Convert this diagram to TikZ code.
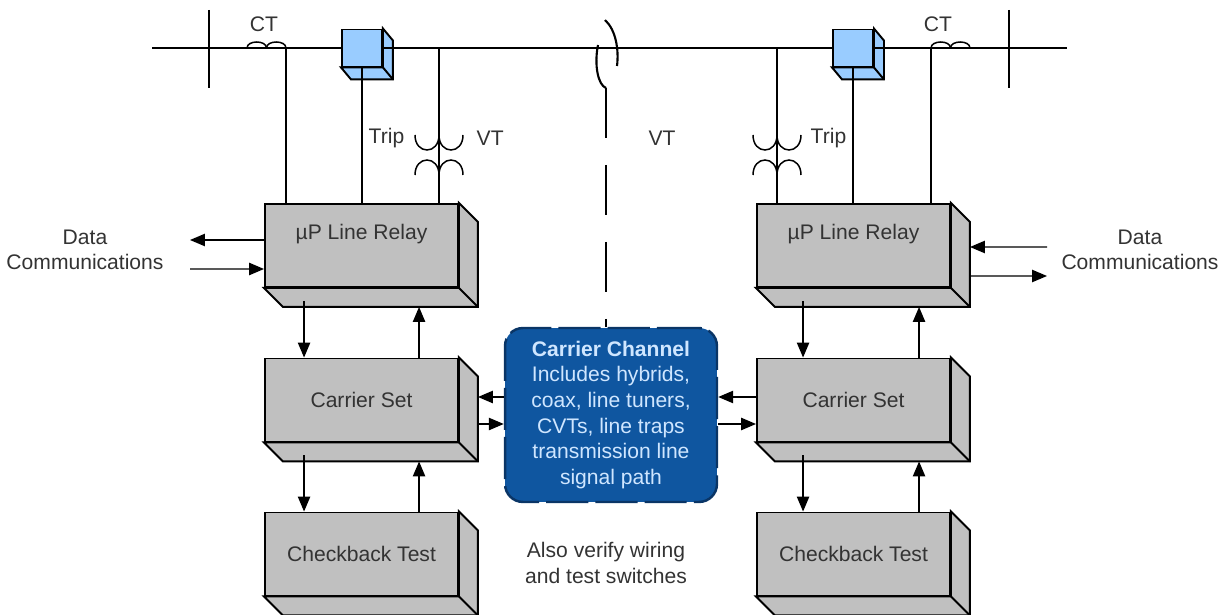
\documentclass[tikz,border=0pt]{standalone}
\usepackage{fontspec}
\setmainfont{Liberation Sans}
\usetikzlibrary{arrows.meta}

\definecolor{boxgray}{HTML}{C0C0C0}
\definecolor{cubeblue}{HTML}{99CCFF}
\definecolor{chanblue}{HTML}{0F56A0}
\definecolor{chanedge}{HTML}{0A3566}
\definecolor{chantext}{HTML}{CFE6FF}
\definecolor{inkgray}{HTML}{333333}

\tikzset{
  unit/.style={draw, fill=boxgray, line width=1.1pt, minimum width=3.86cm, minimum height=1.66cm,
    inner sep=0pt, text=inkgray, font=\fontsize{12}{14.6}\selectfont},
  relayunit/.style={unit, text height=0.3cm, text depth=0.56cm},
  breaker/.style={draw, fill=cubeblue, line width=1.1pt, minimum width=0.8cm, minimum height=0.74cm, inner sep=0pt},
  chan/.style={fill=chanblue, draw=chanedge, line width=1.4pt, dash pattern=on 24pt off 4pt,
    rounded corners=0.36cm, minimum width=4.24cm, minimum height=3.48cm, align=center,
    text=chantext, font=\fontsize{12}{14.6}\selectfont},
  wire/.style={line width=0.85pt},
  lbl/.style={text=inkgray, font=\fontsize{12}{14.6}\selectfont, inner sep=0pt},
}

% faces on the right and below a box (node, depth x, depth y, fill)
\newcommand\boxsides[4]{%
  \filldraw[fill=#4, line width=1.1pt]
    (#1.north east) -- ++(#2,#3) -- ([shift={(#2,#3)}]#1.south east)
    -- ([shift={(#2,#3)}]#1.south west) -- (#1.south west) -- (#1.south east) -- cycle;
  \draw[line width=1.1pt] (#1.south east) -- ++(#2,#3);
}

\begin{document}
\begin{tikzpicture}[x=0.02cm, y=-0.02cm, thick, >={Triangle[length=8.5pt,width=7pt]}]
\useasboundingbox (0,0) rectangle (1225,615);

% line, breakers, bus bars
\coordinate (busL) at (152,48);
\coordinate (busR) at (1067,48);
\node[breaker] (bkL) at (362,48) {};
\boxsides{bkL}{10}{12}{cubeblue}
\node[breaker] (bkR) at (853,48) {};
\boxsides{bkR}{10}{12}{cubeblue}
\draw[wire] (busL) -- (bkL.west) (bkL.east) -- (bkR.west) (bkR.east) -- (busR);
\draw[line width=1.6pt] (209,10) -- (209,88);
\draw[line width=1.6pt] (1009,10) -- (1009,88);

% CT coils
\foreach \x in {247,266.5,931,950.5}
  \draw[wire] (\x,48) .. controls (\x,40) and (\x+19.5,40) .. (\x+19.5,48);
\node[lbl] (ctL) at (264,24) {CT};
\node[lbl] (ctR) at (938,24) {CT};

% VT coils
\foreach \x in {415,439,753,777} {
  \draw[wire] (\x,135) .. controls (\x,155) and (\x+24,155) .. (\x+24,135);
  \draw[wire] (\x,175) .. controls (\x,155) and (\x+24,155) .. (\x+24,175);
}
\node[lbl, anchor=west] (tripL) at (368,138) {Trip};
\node[lbl, anchor=west] (vtL) at (476,138) {VT};
\node[lbl] (vtM) at (662,138) {VT};
\node[lbl, anchor=west] (tripR) at (810,138) {Trip};

% line break
\draw[line width=1.2pt] (605,20) .. controls (616,30) and (619,50) .. (617,66);
\draw[line width=1.2pt] (598,45) .. controls (594,65) and (598,85) .. (606,88);
\coordinate (brk) at (606,88);

% units
\foreach \s/\x in {L/361.5,R/853.5} {
  \node[relayunit] (r\s) at (\x,245.5) {µP Line Relay};
  \node[unit] (c\s) at (\x,400) {Carrier Set};
  \node[unit] (k\s) at (\x,554) {Checkback Test};
}
\foreach \n in {rL,cL,kL,rR,cR,kR} {
  \boxsides{\n}{19}{19}{boxgray}
}

% CT, trip and VT wires
\coordinate (ctLtap) at (286,48);
\coordinate (vtLtap) at (439,48);
\coordinate (vtRtap) at (777,48);
\coordinate (ctRtap) at (931,48);
\draw[wire] (ctLtap) -- (ctLtap |- rL.north);
\draw[wire] (bkL.south) -- (bkL.south |- rL.north);
\draw[wire] (vtLtap) -- (vtLtap |- rL.north);
\draw[wire] (vtRtap) -- (vtRtap |- rR.north);
\draw[wire] (bkR.south) -- (bkR.south |- rR.north);
\draw[wire] (ctRtap) -- (ctRtap |- rR.north);

% carrier channel
\node[chan] (chan) at (611,415) {\textbf{Carrier Channel}\\Includes hybrids,\\coax, line tuners,\\CVTs, line traps\\transmission line\\signal path};
\draw[line width=1.2pt, dash pattern=on 1cm off 0.54cm] (brk) -- (brk |- chan.north);

% signal arrows
\foreach \s/\a/\b in {L/40/155,R/47/163} {
  \draw[->] ([shift={(\a,13)}]r\s.south west) -- ([shift={(\a,0)}]c\s.north west);
  \draw[->] ([shift={(\b,0)}]c\s.north west) -- ([shift={(\b,19)}]r\s.south west);
  \draw[->] ([shift={(\a,13)}]c\s.south west) -- ([shift={(\a,0)}]k\s.north west);
  \draw[->] ([shift={(\b,0)}]k\s.north west) -- ([shift={(\b,19)}]c\s.south west);
}
\draw[->] ([shift={(0,-18)}]chan.west) -- ([shift={(19,-3)}]cL.east);
\draw[->] ([shift={(19,24)}]cL.east) -- ([shift={(0,9)}]chan.west);
\draw[->] ([shift={(0,-3)}]cR.west) -- ([shift={(0,-18)}]chan.east);
\draw[->] ([shift={(0,9)}]chan.east) -- ([shift={(0,24)}]cR.west);

% data communications
\coordinate (dLout) at (190,240);
\coordinate (dLin) at (190,269);
\coordinate (dRin) at (1047,247);
\coordinate (dRout) at (1047,276);
\draw[->] ([shift={(0,-5.5)}]rL.west) -- (dLout);
\draw[->] (dLin) -- ([shift={(0,23.5)}]rL.west);
\draw[->] (dRin) -- ([shift={(19,1.5)}]rR.east);
\draw[->] ([shift={(19,30.5)}]rR.east) -- (dRout);
\node[lbl, align=center] (dataL) at (85,250) {Data\\Communications};
\node[lbl, align=center] (dataR) at (1140,250) {Data\\Communications};

\node[lbl, align=center] (note) at (606,563) {Also verify wiring\\and test switches};
\end{tikzpicture}
\end{document}
